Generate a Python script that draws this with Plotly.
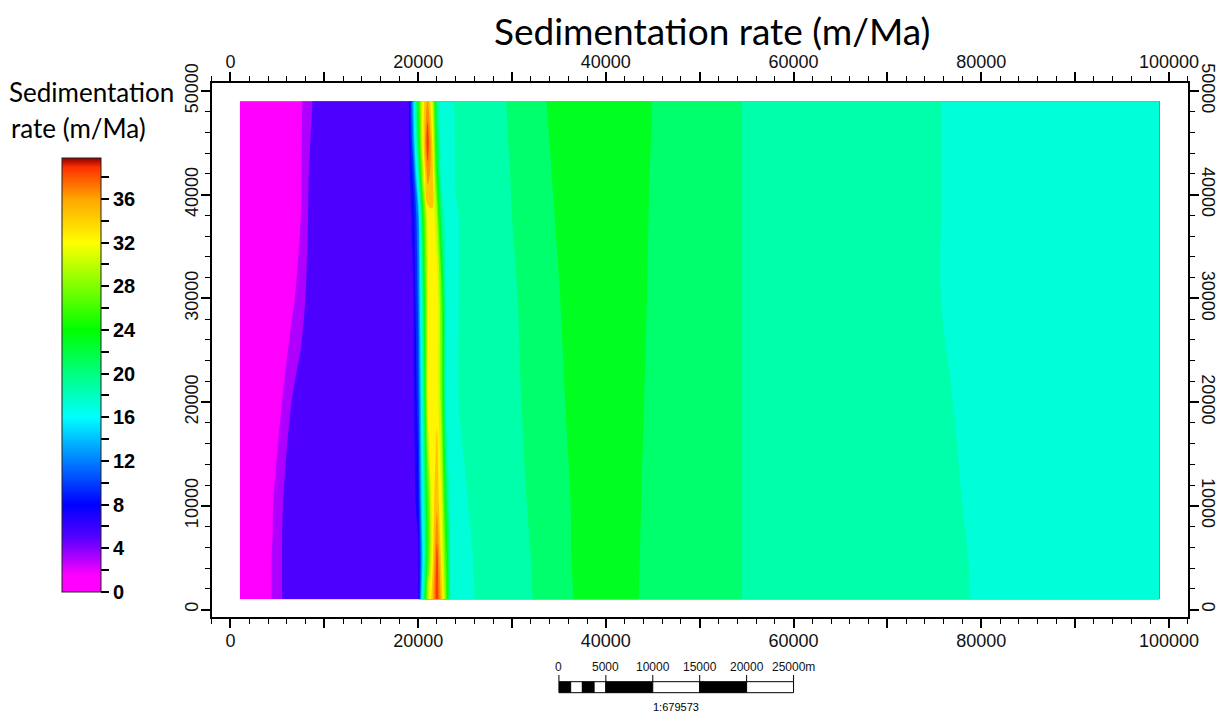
import plotly.graph_objects as go

W, H = 1219, 717
TITLE = "Sedimentation rate (m/Ma)"
SIDE_TITLE = ["Sedimentation", "rate (m/Ma)"]

x_cols = [1000, 3500, 4500, 5500, 6500, 7500, 8500, 9500,
          18500, 19000, 19500, 20000, 20500, 21000, 21500, 22000, 22500, 23000, 23500, 24000, 25000, 26000,
          29000, 33000, 37000, 43000, 45500, 54000, 55000, 75000, 80000, 99000]
y_rows = [1000, 5000, 10000, 20000, 30000, 38000, 42000, 45000, 49000]

z_1000 = [1, 1.2, 2.1, 4, 5, 5, 5, 5,
          5, 5, 5, 5.5, 18, 29, 33, 37.5, 33, 26, 16.5, 16.8, 17.5, 18.0,
          18.4, 20.4, 22.2, 22.2, 21.2, 20.5, 19.5, 18.76, 17.76, 17]
z_5000 = [1, 1.2, 2.1, 4, 5, 5, 5, 5,
          5, 5, 5, 5.5, 15, 25, 31, 37, 31, 25, 16.8, 16.9, 17.5, 18.1,
          18.5, 20.5, 22.3, 22.25, 21.25, 20.5, 19.5, 18.72, 17.72, 17]
z_10000 = [1, 1.2, 1.9, 3.9, 5, 5, 5, 5,
           5, 5, 5, 7, 16.5, 25, 31, 33.5, 30, 22, 16.8, 17, 17.9, 18.2,
           18.7, 20.7, 22.3, 22.3, 21.3, 20.5, 19.5, 18.6, 17.6, 17]
z_20000 = [1, 1.1, 1.3, 2, 4, 5, 5, 5,
           5, 5, 5.5, 9, 18, 30, 31.5, 31.5, 27, 16.8, 17, 17.9, 18.2, 18.3,
           19.0, 21.0, 22.5, 22.45, 21.4, 20.5, 19.5, 18.4, 17.4, 17]
z_30000 = [1, 1.1, 1.1, 1.2, 1.4, 3.1, 5, 5,
           5, 5, 6, 10.5, 20, 30, 31.5, 31.5, 26, 16.9, 17, 17.9, 18.2, 18.3,
           19.2, 21.2, 22.7, 22.55, 21.55, 20.5, 19.5, 18.14, 17.14, 17]
z_38000 = [1, 1.1, 1.1, 1.1, 1.2, 2.0, 4.6, 5,
           5, 5, 7, 12, 24, 31, 31.8, 28, 20, 16.5, 17, 17.9, 18.2, 18.3,
           19.5, 21.5, 22.8, 22.65, 21.6, 20.5, 19.5, 18.14, 17.14, 17]
z_42000 = [1, 1.1, 1.1, 1.1, 1.2, 1.9, 4.4, 5,
           5, 5.2, 9, 18, 29, 35, 33, 24, 17, 16.5, 17.5, 18.1, 18.3, 18.4,
           19.6, 21.6, 22.9, 22.7, 21.65, 20.5, 19.5, 18.14, 17.14, 17]
z_45000 = [1, 1.1, 1.1, 1.1, 1.1, 1.8, 4.0, 5,
           5, 5.4, 12, 22, 31, 37.5, 32, 22, 16.6, 17, 17.6, 18.1, 18.3, 18.4,
           19.7, 21.7, 22.9, 22.75, 21.7, 20.5, 19.5, 18.14, 17.14, 17]
z_49000 = [1, 1.1, 1.1, 1.1, 1.1, 1.7, 3.7, 5,
           5, 5.5, 14, 24, 31, 34.5, 30, 20, 16.5, 17, 17.6, 18.2, 18.3, 18.4,
           19.8, 21.8, 23, 22.8, 21.75, 20.5, 19.5, 18.14, 17.14, 17]
z_table = [z_1000, z_5000, z_10000, z_20000, z_30000, z_38000, z_42000, z_45000, z_49000]

Z_TOP = 39.75
bar_stops = [(0, "#ff00ff"), (1.5, "#ff00ff"), (5, "#5500ff"), (8, "#0000ff"), (16, "#00ffff"), (24, "#00ff00"),
             (32, "#ffff00"), (36, "#ffa500"), (38.9, "#ff3000"), (39.75, "#8a0000")]
fill_stops = [(0, "#ff00ff"), (1.5, "#ff00ff"), (5, "#5500ff"), (8, "#0000ff"), (16, "#00ffff"), (17, "#00ffe8"),
              (19, "#00ffc0"), (21, "#00ff90"), (23, "#00ff45"), (25, "#00ff00"),
              (32, "#ffff00"), (36, "#ffa500"), (38.9, "#ff3000"), (39.75, "#8a0000")]
bar_scale = [[v / Z_TOP, c] for v, c in bar_stops]
fill_scale = [[v / Z_TOP, c] for v, c in fill_stops]

scale_bar_edges = [35000, 36250, 37500, 38750, 40000, 45000, 50000, 55000, 60000]
scale_bar_labels = ["0", "5000", "10000", "15000", "20000", "25000m"]
scale_bar_ticks = [35000, 40000, 45000, 50000, 55000, 60000]

fig = go.Figure()
fig.add_trace(go.Contour(
    x=x_cols, y=y_rows, z=z_table, colorscale=fill_scale, zmin=0, zmax=Z_TOP, showscale=False,
    autocontour=False, contours=dict(start=0, end=40, size=2, coloring="fill", showlines=False),
    line=dict(width=0), xaxis="x", yaxis="y", hoverinfo="skip"))
fig.add_trace(go.Scatter(
    x=[None], y=[None], mode="markers", xaxis="x2", yaxis="y2", showlegend=False, hoverinfo="skip",
    marker=dict(color=[0], cmin=0, cmax=Z_TOP, colorscale=bar_scale, showscale=True, colorbar=dict(
        x=62 / W, xanchor="left", xref="paper", thickness=39, thicknessmode="pixels",
        y=1 - 592 / H, yanchor="bottom", yref="paper", len=434, lenmode="pixels",
        ypad=0, xpad=0, outlinewidth=1, outlinecolor="#222222",
        tick0=0, dtick=2, ticklabelstep=2, ticks="outside", ticklen=8, tickwidth=1.5, tickcolor="black",
        tickfont=dict(family="Liberation Sans", size=20, color="black", weight="bold")))))

axis_font = dict(family="Liberation Sans", size=18, color="#111111")
x_common = dict(range=[-2000, 102000], tick0=0, dtick=10000, ticklabelstep=2, ticks="outside", ticklen=9,
                tickwidth=1.5, tickcolor="black", showgrid=False, zeroline=False, showline=True,
                linecolor="black", linewidth=2, tickfont=axis_font, tickformat="d", ticklabelstandoff=-3,
                minor=dict(dtick=2000, ticks="outside", ticklen=5, tickwidth=1, tickcolor="black", showgrid=False),
                domain=[211.7 / W, 1187.7 / W])
y_common = dict(range=[-752, 50800], tick0=0, dtick=10000, ticks="outside", ticklen=9,
                tickwidth=1.5, tickcolor="black", showgrid=False, zeroline=False, showline=True,
                linecolor="black", linewidth=2, tickfont=axis_font, tickformat="d", ticklabelstandoff=-4,
                minor=dict(dtick=2000, ticks="outside", ticklen=5, tickwidth=1, tickcolor="black", showgrid=False),
                domain=[1 - 617.3 / H, 1 - 82.7 / H])

fig.update_layout(
    width=W, height=H, margin=dict(l=0, r=0, t=0, b=0, autoexpand=False), paper_bgcolor="white", plot_bgcolor="white",
    showlegend=False,
    xaxis=dict(x_common, anchor="y", side="bottom"),
    yaxis=dict(y_common, anchor="x", side="left", tickangle=-90),
    xaxis2=dict(x_common, anchor="y2", side="top", overlaying="x"),
    yaxis2=dict(y_common, anchor="x2", side="right", tickangle=90, overlaying="y"),
)

def label(text, px, py, size, family="Liberation Sans", anchor="center"):
    fig.add_annotation(text=text, x=px / W, y=1 - py / H, xref="paper", yref="paper", showarrow=False,
                       font=dict(family=family, size=size, color="black"), xanchor=anchor, yanchor="middle")

label(TITLE, 712, 30, 37, "Lato")
label(SIDE_TITLE[0], 7, 92, 26, "Lato", "left")
label(SIDE_TITLE[1], 9, 128, 26, "Lato", "left")

bar_top, bar_bottom = 1 - 681.7 / H, 1 - 692.7 / H
for i in range(len(scale_bar_edges) - 1):
    fig.add_shape(type="rect", xref="x", yref="paper", x0=scale_bar_edges[i], x1=scale_bar_edges[i + 1],
                  y0=bar_bottom, y1=bar_top, fillcolor="black" if i % 2 == 0 else "white",
                  line=dict(color="black", width=1), layer="above")
for t, s in zip(scale_bar_ticks, scale_bar_labels):
    fig.add_shape(type="line", xref="x", yref="paper", x0=t, x1=t, y0=bar_top, y1=1 - 675 / H,
                  line=dict(color="black", width=1))
    fig.add_annotation(text=s, x=t, y=1 - 667 / H, xref="x", yref="paper", showarrow=False,
                       font=dict(family="Liberation Sans", size=12, color="#111111"),
                       xanchor="center", yanchor="middle")
label("1:679573", 676, 707, 11)

fig.write_html("out.html", config=dict(displayModeBar=False), post_script="document.body.style.margin='0';")
